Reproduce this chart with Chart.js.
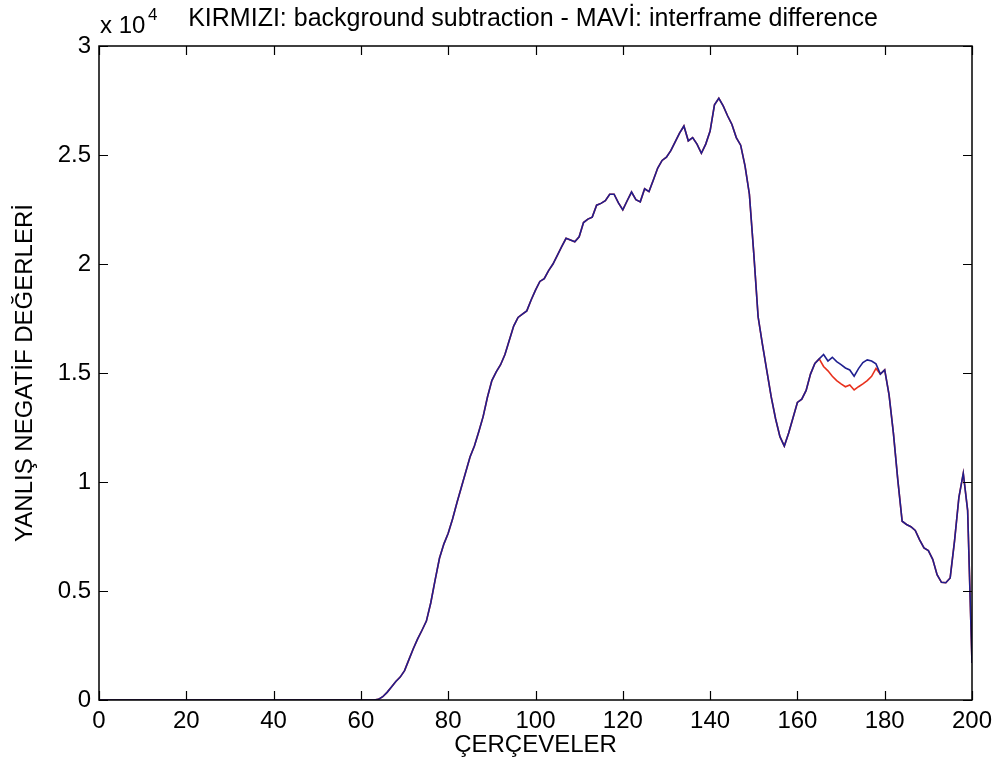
<!DOCTYPE html>
<html>
<head>
<meta charset="utf-8">
<script src="https://cdn.jsdelivr.net/npm/chart.js@4"></script>
<style>
  body { margin: 0; background: #fff; }
  canvas { display: block; }
</style>
</head>
<body>
<canvas id="fnChart" width="1003" height="778"></canvas>
<script>
// YANLIŞ NEGATİF değerleri, kare 0..200 (index = kare numarası)
const blueValues = [
  0, 0, 0, 0, 0, 0, 0, 0, 0, 0,
  0, 0, 0, 0, 0, 0, 0, 0, 0, 0,
  0, 0, 0, 0, 0, 0, 0, 0, 0, 0,
  0, 0, 0, 0, 0, 0, 0, 0, 0, 0,
  0, 0, 0, 0, 0, 0, 0, 0, 0, 0,
  0, 0, 0, 0, 0, 0, 0, 0, 0, 0,
  0, 0, 0, 0, 30, 150, 350, 600, 850, 1050,          // 60-69
  1350, 1850, 2350, 2800, 3200, 3620, 4450, 5500, 6500, 7150,   // 70-79
  7650, 8300, 9050, 9750, 10450, 11150, 11650, 12300, 13000, 13900, // 80-89
  14650, 15050, 15380, 15850, 16500, 17150, 17550, 17700, 17850, 18350, // 90-99
  18800, 19200, 19330, 19700, 20000, 20400, 20800, 21180, 21100, 21020, // 100-109
  21250, 21900, 22060, 22150, 22700, 22780, 22900, 23200, 23200, 22800, // 110-119
  22480, 22900, 23300, 22950, 22850, 23450, 23320, 23850, 24400, 24750, // 120-129
  24900, 25200, 25600, 26000, 26330, 25650, 25800, 25500, 25080, 25500, // 130-139
  26100, 27300, 27600, 27250, 26800, 26400, 25800, 25450, 24500, 23200, // 140-149
  20500, 17580, 16300, 15100, 13900, 12900, 12080, 11650, 12250, 12950, // 150-159
  13650, 13800, 14200, 14950, 15440, 15650, 15850, 15550, 15720, 15520, // 160-169
  15380, 15230, 15140, 14850, 15200, 15480, 15600, 15550, 15420, 14950, // 170-179
  15140, 14000, 12230, 10100, 8200, 8050, 7950, 7780, 7350, 6980,      // 180-189
  6850, 6450, 5750, 5400, 5380, 5600, 7300, 9300, 10400, 8700,         // 190-199
  1700                                                                 // 200
];

// background subtraction sadece 166-179 arasında farklı
const redStart = 166;
const redSegment = [15300, 15100, 14850, 14650, 14500, 14370, 14450, 14220, 14370, 14500, 14650, 14850, 15210, 14950];

const xTicks = [0, 20, 40, 60, 80, 100, 120, 140, 160, 180, 200];
const yTickLabels = ['0', '0.5', '1', '1.5', '2', '2.5', '3'];

const redValues = blueValues.slice();
redSegment.forEach((v, i) => { redValues[redStart + i] = v; });

const toPoints = (arr) => arr.map((v, i) => ({ x: i, y: v }));

const fontFam = "'Liberation Sans', Arial, sans-serif";

// içe dönük tick çizgileri, kutu, başlık ve x 10^4
const matlabFrame = {
  id: 'matlabFrame',
  afterDraw(chart) {
    const ctx = chart.ctx;
    const { left, right, top, bottom } = chart.chartArea;
    const xs = chart.scales.x, ys = chart.scales.y;
    ctx.save();
    ctx.strokeStyle = '#000';
    ctx.lineWidth = 1.5;
    ctx.strokeRect(left, top, right - left, bottom - top);
    ctx.lineWidth = 1.2;
    ctx.beginPath();
    xTicks.forEach(t => {
      const px = Math.round(xs.getPixelForValue(t)) + 0.5;
      ctx.moveTo(px, bottom); ctx.lineTo(px, bottom - 9);
      ctx.moveTo(px, top); ctx.lineTo(px, top + 9);
    });
    ys.ticks.forEach(t => {
      const py = Math.round(ys.getPixelForValue(t.value)) + 0.5;
      ctx.moveTo(left, py); ctx.lineTo(left + 9, py);
      ctx.moveTo(right, py); ctx.lineTo(right - 9, py);
    });
    ctx.stroke();

    ctx.fillStyle = '#000';
    ctx.textBaseline = 'alphabetic';
    ctx.textAlign = 'left';
    ctx.font = '24px ' + fontFam;
    ctx.fillText('x 10', 100, 33);
    ctx.font = '17px ' + fontFam;
    ctx.fillText('4', 148, 20);
    ctx.font = '25px ' + fontFam;
    ctx.textAlign = 'center';
    ctx.fillText('KIRMIZI: background subtraction - MAVİ: interframe difference', 533, 26);
    ctx.restore();
  }
};

new Chart(document.getElementById('fnChart'), {
  type: 'line',
  data: {
    datasets: [
      {
        label: 'MAVİ: interframe difference',
        data: toPoints(blueValues),
        borderColor: '#1f1f8f',
        borderWidth: 1.6,
        pointRadius: 0,
        tension: 0,
        order: 0,
      },
      {
        label: 'KIRMIZI: background subtraction',
        data: toPoints(redValues),
        borderColor: '#e8301c',
        borderWidth: 1.6,
        pointRadius: 0,
        tension: 0,
        order: 1,
      },
    ],
  },
  options: {
    responsive: false,
    animation: false,
    layout: { padding: { top: 46, right: 31, left: 0, bottom: 0 } },
    plugins: {
      legend: { display: false },
      tooltip: { enabled: false },
    },
    scales: {
      x: {
        type: 'linear',
        min: 0,
        max: 200,
        afterFit: (s) => { s.height = 78; },
        afterBuildTicks: (s) => { s.ticks = xTicks.map(v => ({ value: v })); },
        grid: { display: false, drawTicks: false },
        border: { display: false },
        ticks: {
          color: '#000',
          padding: 7,
          maxRotation: 0,
          autoSkip: false,
          font: { family: fontFam, size: 24 },
        },
        title: {
          display: true,
          text: 'ÇERÇEVELER',
          color: '#000',
          font: { family: fontFam, size: 24 },
          padding: { top: 0, bottom: 18 },
        },
      },
      y: {
        min: 0,
        max: 30000,
        afterFit: (s) => { s.width = 99; },
        grid: { display: false, drawTicks: false },
        border: { display: false },
        ticks: {
          stepSize: 5000,
          color: '#000',
          padding: 8,
          font: { family: fontFam, size: 24 },
          callback: (v, i) => yTickLabels[i],
        },
        title: {
          display: true,
          text: 'YANLIŞ NEGATİF DEĞERLERİ',
          color: '#000',
          font: { family: fontFam, size: 24 },
          padding: { top: 11, bottom: 0 },
        },
      },
    },
  },
  plugins: [matlabFrame],
});
</script>
</body>
</html>
